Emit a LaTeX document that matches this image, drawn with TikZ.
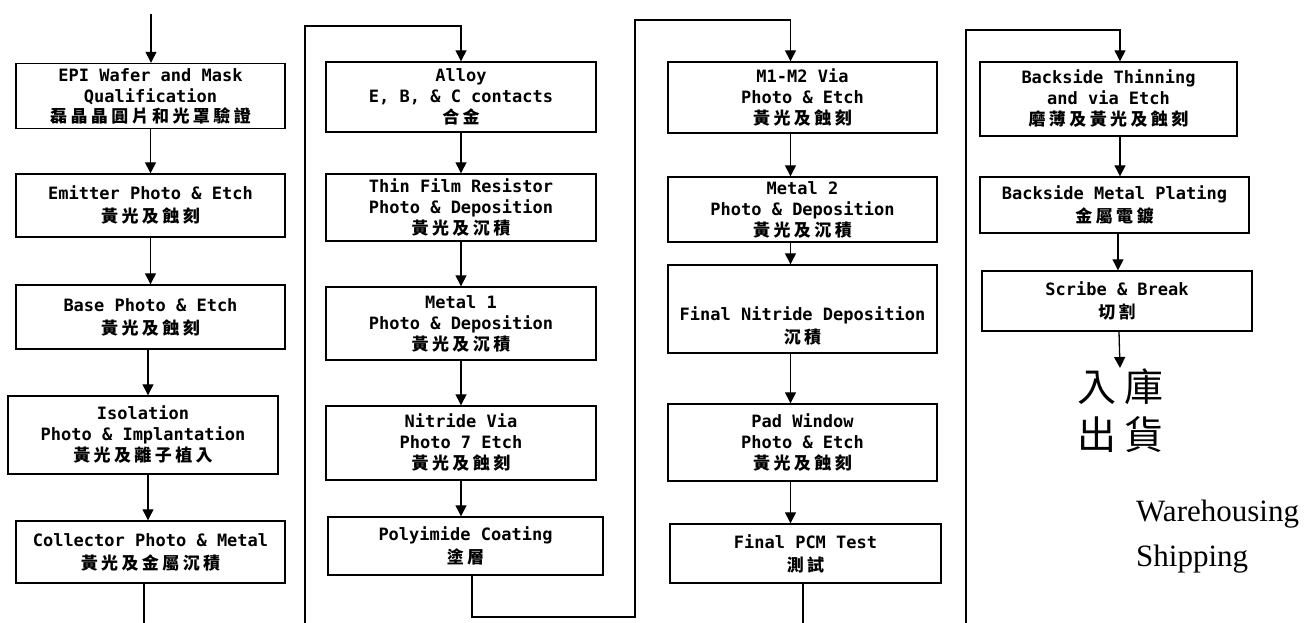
\documentclass[tikz,border=0pt]{standalone}
\usepackage{fontspec}
\setmainfont{Liberation Serif}
\newfontfamily\stepfont{DejaVu Sans Mono}
\newfontfamily\cjk{Noto Sans CJK TC}[LetterSpace=20]
\newfontfamily\cjkwide{Noto Sans CJK TC}
\usetikzlibrary{arrows.meta,calc}
\newcommand{\zhline}[1]{{\cjk\fontsize{17}{21}\selectfont #1}}
\tikzset{
  stepbox/.style={draw=black,line width=1.4pt,align=center,inner sep=0pt,
    font=\stepfont\bfseries\fontsize{17}{21}\selectfont},
  arrow/.style={-{Triangle[length=11pt,width=11pt]},draw=black,line width=1.3pt},
  wire/.style={draw=black,line width=1.3pt}
}

\begin{document}
\begin{tikzpicture}[x=1pt,y=-1pt]
  \path[use as bounding box] (0,0) rectangle (1307,623);

  % First column.
  \node[stepbox,minimum width=269pt,minimum height=65pt] (epi) at (150.5,96)
    {EPI Wafer and Mask\\Qualification\\[-1pt]\zhline{磊晶晶圓片和光罩驗證}};
  \node[stepbox,minimum width=269pt,minimum height=63pt] (emit) at (150.5,205.5)
    {Emitter Photo \& Etch\\[2pt]\zhline{黃光及蝕刻}};
  \node[stepbox,minimum width=269pt,minimum height=64pt] (base) at (150.5,317)
    {Base Photo \& Etch\\[2pt]\zhline{黃光及蝕刻}};
  \node[stepbox,minimum width=270pt,minimum height=78pt] (iso) at (143,435)
    {Isolation\\Photo \& Implantation\\\zhline{黃光及離子植入}};
  \node[stepbox,minimum width=269pt,minimum height=62pt] (coll) at (150.5,552)
    {Collector Photo \& Metal\\[2pt]\zhline{黃光及金屬沉積}};

  \coordinate (c1in) at (151,14);
  \coordinate (c1out) at (144,623);
  \draw[arrow] (c1in) -- (c1in |- epi.north);
  \draw[arrow] (epi.south) -- (emit.north);
  \draw[arrow] (emit.south) -- (base.north);
  \draw[arrow] ([xshift=-2.5pt]base.south) -- ([xshift=-2.5pt]base.south |- iso.north);
  \draw[arrow] ([xshift=5pt]iso.south) -- ([xshift=5pt]iso.south |- coll.north);
  \draw[wire] (coll.south -| c1out) -- (c1out);

  % Second column.
  \node[stepbox,minimum width=270pt,minimum height=70pt] (alloy) at (461,97)
    {Alloy\\E, B, \& C contacts\\\zhline{合金}};
  \node[stepbox,minimum width=270pt,minimum height=67pt] (thin) at (461,207.5)
    {Thin Film Resistor\\Photo \& Deposition\\\zhline{黃光及沉積}};
  \node[stepbox,minimum width=270pt,minimum height=73pt] (metal1) at (461,323.5)
    {Metal 1\\Photo \& Deposition\\\zhline{黃光及沉積}};
  \node[stepbox,minimum width=270pt,minimum height=74pt] (nvia) at (461,443)
    {Nitride Via\\Photo 7 Etch\\\zhline{黃光及蝕刻}};
  \node[stepbox,minimum width=275pt,minimum height=58pt] (poly) at (465.5,546)
    {Polyimide Coating\\[2pt]\zhline{塗層}};

  \coordinate (c2in) at (305,623);
  \coordinate (c2top) at (305,26);
  \draw[arrow] (c2in) -- (c2top) -| (alloy.north);
  \draw[arrow] (alloy.south) -- (thin.north);
  \draw[arrow] (thin.south) -- (metal1.north);
  \draw[arrow] (metal1.south) -- (nvia.north);
  \draw[arrow] (nvia.south) -- (nvia.south |- poly.north);

  % Third column.
  \node[stepbox,minimum width=269pt,minimum height=71pt] (m1m2) at (802.5,97.5)
    {M1-M2 Via\\Photo \& Etch\\\zhline{黃光及蝕刻}};
  \node[stepbox,minimum width=269pt,minimum height=65pt] (metal2) at (802.5,209.5)
    {Metal 2\\Photo \& Deposition\\\zhline{黃光及沉積}};
  \node[stepbox,minimum width=269pt,minimum height=88pt,text height=71pt] (fnit) at (802.5,309)
    {Final Nitride Deposition\\[2pt]\zhline{沉積}};
  \node[stepbox,minimum width=269pt,minimum height=77pt] (pad) at (802.5,442.5)
    {Pad Window\\Photo \& Etch\\\zhline{黃光及蝕刻}};
  \node[stepbox,minimum width=271pt,minimum height=59pt] (pcm) at (805.5,553.5)
    {Final PCM Test\\[2pt]\zhline{測試}};

  \coordinate (c3low) at (635,617);
  \coordinate (c3top) at (635,20);
  \coordinate (c3out) at (803,623);
  \draw[arrow] ([xshift=6.5pt]poly.south) |- (c3low) -- (c3top) -| ([xshift=-12pt]m1m2.north);
  \draw[arrow] ([xshift=-12pt]m1m2.south) -- ([xshift=-12pt]metal2.north);
  \draw[arrow] ([xshift=-12pt]metal2.south) -- ([xshift=-12pt]fnit.north);
  \draw[arrow] ([xshift=-12pt]fnit.south) -- ([xshift=-12pt]pad.north);
  \draw[arrow] ([xshift=-12pt]pad.south) -- ([xshift=-12pt]pad.south |- pcm.north);
  \draw[wire] (pcm.south -| c3out) -- (c3out);

  % Fourth column.
  \node[stepbox,minimum width=257pt,minimum height=74pt] (bt) at (1108.5,99)
    {Backside Thinning\\and via Etch\\\zhline{磨薄及黃光及蝕刻}};
  \node[stepbox,minimum width=269pt,minimum height=56pt] (bmp) at (1114.5,205)
    {Backside Metal Plating\\[2pt]\zhline{金屬電鍍}};
  \node[stepbox,minimum width=270pt,minimum height=60pt] (scribe) at (1117,301)
    {Scribe \& Break\\[2pt]\zhline{切割}};

  \node[font=\cjkwide\fontsize{39}{48}\selectfont,align=center,inner sep=0pt,anchor=north]
    (store) at (1120,368) {入\hspace{8pt}庫\\出\hspace{8pt}貨};
  \node[font=\fontsize{31}{45}\selectfont,align=left,inner sep=0pt,anchor=north west]
    (ship) at (1136,500) {Warehousing\\Shipping};

  \coordinate (c4in) at (966,623);
  \coordinate (c4top) at (966,30);
  \draw[arrow] (c4in) -- (c4top) -| ([xshift=11.5pt]bt.north);
  \draw[arrow] ([xshift=11.5pt]bt.south) -- ([xshift=5.5pt]bmp.north);
  \draw[arrow] ([xshift=3.5pt]bmp.south) -- ([xshift=1pt]scribe.north);
  \draw[arrow] ([xshift=2pt]scribe.south) -- (store.north);
\end{tikzpicture}
\end{document}
